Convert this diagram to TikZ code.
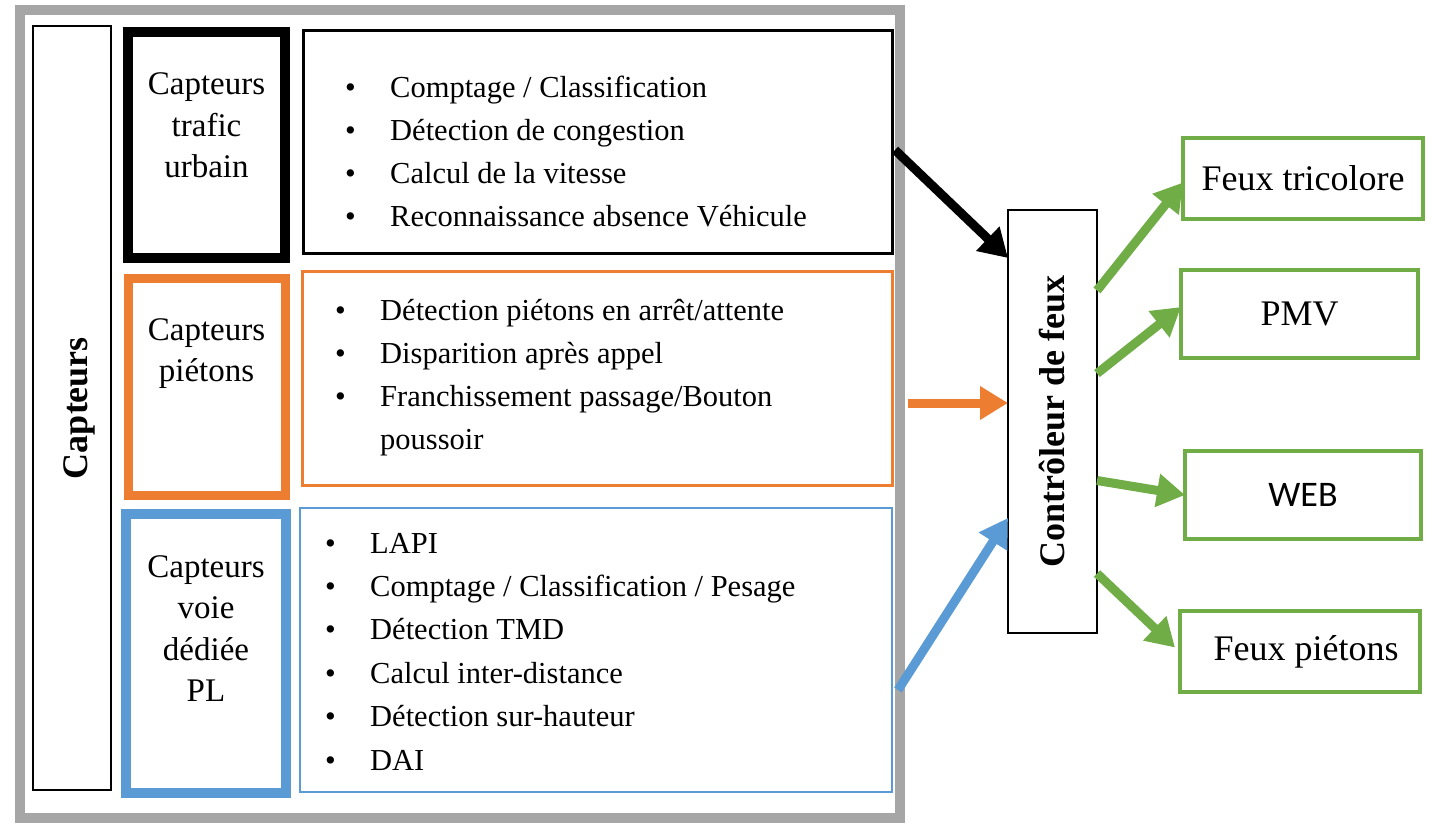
\documentclass[tikz,border=0pt]{standalone}
\usepackage{fontspec}
\usepackage{graphicx}
\setmainfont{Liberation Serif}
\newfontfamily\webfont{Carlito}
\usetikzlibrary{arrows.meta, positioning}

\definecolor{gris}{HTML}{A6A6A6}
\definecolor{orangeP}{HTML}{ED7D31}
\definecolor{bleuP}{HTML}{5B9BD5}
\definecolor{vertP}{HTML}{70AD47}

\newcommand{\puce}{\makebox[45pt][l]{\textbullet}}
\newcommand{\retrait}{\hspace*{45pt}}

\tikzset{
  boite/.style={draw, inner sep=0pt, outer sep=0pt},
  titre/.style={font=\fontsize{33}{41.5}\selectfont, anchor=base, inner sep=0pt},
  liste/.style={font=\fontsize{30.5}{43}\selectfont, anchor=base west, inner sep=0pt},
  sortie/.style={boite, draw=vertP, line width=4pt, font=\fontsize{36}{40}\selectfont},
  fleche/.style={line width=9pt, -{Triangle[length=28pt, width=32pt]}},
}

\begin{document}
\begin{tikzpicture}[x=1pt, y=-1pt]
\useasboundingbox (0,0) rectangle (1432,824);

% cadre gris des capteurs
\draw[gris, line width=10pt] (20,10) rectangle (900,818);

\node[boite, line width=2pt, minimum width=78pt, minimum height=764pt,
      font=\bfseries\fontsize{36}{40}\selectfont] (capteurs) at (72,408)
      {\hspace*{14pt}\rotatebox{90}{Capteurs}};

% types de capteurs
\node[boite, line width=10pt, minimum width=157pt, minimum height=226pt] (trafic) at (206.5,145) {};
\node[boite, draw=orangeP, line width=9pt, minimum width=157pt, minimum height=217pt] (pietons) at (206.5,386.5) {};
\node[boite, draw=bleuP, line width=10pt, minimum width=160pt, minimum height=279pt] (pl) at (206,653.5) {};

\node[titre] (trafic-txt) at (206.5,95) {\begin{tabular}[t]{@{}c@{}}Capteurs\\trafic\\urbain\end{tabular}};
\node[titre] (pietons-txt) at (206.5,340) {\begin{tabular}[t]{@{}c@{}}Capteurs\\piétons\end{tabular}};
\node[titre] (pl-txt) at (206,577) {\begin{tabular}[t]{@{}c@{}}Capteurs\\voie\\dédiée\\PL\end{tabular}};

% fonctions
\node[boite, line width=3pt, minimum width=589pt, minimum height=222pt] (trafic-liste) at (597.5,142) {};
\node[boite, draw=orangeP, line width=3pt, minimum width=590pt, minimum height=214pt] (pietons-liste) at (597,378) {};
\node[boite, draw=bleuP, line width=2.5pt, minimum width=592pt, minimum height=284pt] (pl-liste) at (596,650) {};

\node[liste] (trafic-items) at (345,98) {\begin{tabular}[t]{@{}l@{}}
\puce Comptage / Classification\\
\puce Détection de congestion\\
\puce Calcul de la vitesse\\
\puce Reconnaissance absence Véhicule
\end{tabular}};

\node[liste] (pietons-items) at (335,320) {\begin{tabular}[t]{@{}l@{}}
\puce Détection piétons en arrêt/attente\\
\puce Disparition après appel\\
\puce Franchissement passage/Bouton\\
\retrait poussoir
\end{tabular}};

\node[liste, font=\fontsize{30.5}{43.4}\selectfont] (pl-items) at (325,553) {\begin{tabular}[t]{@{}l@{}}
\puce LAPI\\
\puce Comptage / Classification / Pesage\\
\puce Détection TMD\\
\puce Calcul inter-distance\\
\puce Détection sur-hauteur\\
\puce DAI
\end{tabular}};

% controleur et sorties
\node[boite, line width=2.5pt, minimum width=89pt, minimum height=423pt,
      font=\bfseries\fontsize{36}{40}\selectfont] (ctrl) at (1052.5,421.5)
      {\rotatebox{90}{Contrôleur de feux}};

\node[sortie, minimum width=240pt, minimum height=81pt] (tricolore) at (1303,178.5) {Feux tricolore};
\node[sortie, minimum width=237pt, minimum height=88pt] (pmv) at (1299.5,314) {PMV};
\node[sortie, minimum width=236pt, minimum height=88pt, font=\webfont\fontsize{36}{40}\selectfont] (web) at (1303,495) {WEB};
\node[sortie, minimum width=240pt, minimum height=81pt] (feuxp) at (1300,651.5) {\hspace*{12pt}Feux piétons};

% liaisons
\draw[fleche] ([shift={(3pt,-8pt)}]trafic-liste.east) -- ([yshift=-48pt]ctrl.north west);
\draw[fleche, orangeP] ([shift={(16pt,-25pt)}]pietons-liste.east) -- ([yshift=-25pt]pietons-liste.east -| ctrl.west);
\draw[fleche, bleuP] ([shift={(6pt,-40pt)}]pl-liste.east) -- ([yshift=115pt]ctrl.south west);

\draw[fleche, vertP] ([yshift=131pt]ctrl.east) -- ([yshift=-4pt]tricolore.west);
\draw[fleche, vertP] ([yshift=48pt]ctrl.east) -- ([yshift=7pt]pmv.west);
\draw[fleche, vertP] ([yshift=-59pt]ctrl.east) -- (web.west);
\draw[fleche, vertP] ([yshift=-152pt]ctrl.east) -- ([shift={(-5pt,4pt)}]feuxp.west);

\end{tikzpicture}
\end{document}
